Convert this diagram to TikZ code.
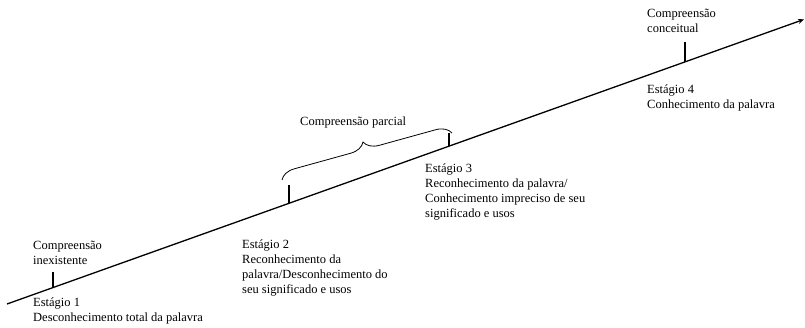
\documentclass[tikz,border=0pt]{standalone}
\usepackage{fontspec}
\setmainfont{Liberation Serif}
\usetikzlibrary{arrows.meta,decorations.pathreplacing}
\newcommand{\lines}[1]{\begin{tabular}[t]{@{}l@{}}#1\end{tabular}}
\begin{document}
\begin{tikzpicture}[x=1pt,y=-1pt,
  txt/.style={anchor=base west,inner sep=0pt,font=\fontsize{12.5}{15}\selectfont},
  axis/.style={line width=1.3pt,-{Stealth[length=6pt,width=5pt]}},
  tick/.style={line width=1.2pt},
  brc/.style={line width=0.8pt,decorate,decoration={brace,amplitude=15pt}}]
\useasboundingbox (0,0) rectangle (805,328);
\coordinate (s) at (7,304);
\coordinate (e) at (804,19.4);
\draw[axis] (s) -- (e);
% ticks
\coordinate (b1) at (53,287.6);  \coordinate (t1) at (53,272);
\coordinate (b2) at (289,203.3); \coordinate (t2) at (289,185);
\coordinate (b3) at (449,146.2); \coordinate (t3) at (449,133);
\coordinate (b4) at (685,61.9);  \coordinate (t4) at (685,42);
\draw[tick] (b1) -- (t1);
\draw[tick] (b2) -- (t2);
\draw[tick] (b3) -- (t3);
\draw[tick] (b4) -- (t4);
% brace
\coordinate (bl) at (282,180);
\coordinate (br) at (452,133);
\draw[brc] (bl) -- (br);
\node[txt] (cp) at (300,126) {Compreensão parcial};
% texts
\node[txt] (c1) at (33,250) {\lines{Compreensão\\inexistente}};
\node[txt] (s1) at (33,307) {\lines{Estágio 1\\Desconhecimento total da palavra}};
\node[txt] (s2) at (242,249) {\lines{Estágio 2\\Reconhecimento da\\palavra/Desconhecimento do\\seu significado e usos}};
\node[txt] (s3) at (425,173) {\lines{Estágio 3\\Reconhecimento da palavra/\\Conhecimento impreciso de seu\\significado e usos}};
\node[txt] (c4) at (647,18) {\lines{Compreensão\\conceitual}};
\node[txt] (s4) at (647,94) {\lines{Estágio 4\\Conhecimento da palavra}};
\end{tikzpicture}
\end{document}
